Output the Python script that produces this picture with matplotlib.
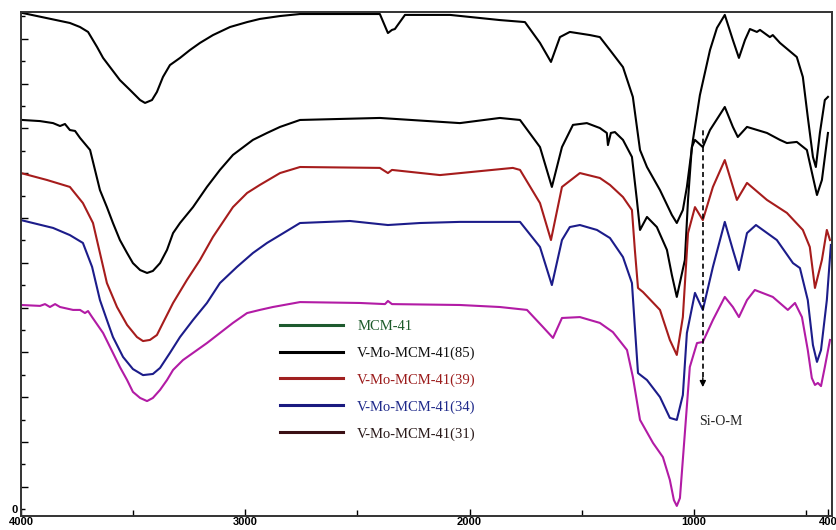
import matplotlib
matplotlib.use("Agg")
import matplotlib.pyplot as plt
from matplotlib.lines import Line2D

# wavenumber (cm-1) and transmittance (a.u., stacked)
mcm41_wn = [3995, 3782, 3737, 3701, 3661, 3634, 3603, 3559, 3514, 3469, 3447, 3416, 3394, 3367, 3336,
            3291, 3247, 3202, 3144, 3068, 2992, 2935, 2845, 2756,
            2400, 2364, 2346, 2333, 2288, 2087, 1865, 1753, 1686, 1637, 1597, 1553, 1463, 1419, 1374,
            1316, 1272, 1240, 1209, 1151, 1098, 1076, 1049, 1031, 1004, 973, 928, 897, 862, 826,
            799, 772, 750, 719, 705, 661, 648, 616, 541, 514, 492, 469, 456, 438, 416, 402]
mcm41_t = [22.16, 21.71, 21.53, 21.31, 20.64, 20.15, 19.74, 19.16, 18.72, 18.27, 18.14, 18.27, 18.63, 19.30, 19.83,
           20.15, 20.50, 20.82, 21.17, 21.53, 21.75, 21.89, 22.02, 22.11,
           22.11, 21.26, 21.40, 21.44, 22.07, 22.07, 21.84, 21.75, 20.82, 19.97, 21.08, 21.31, 21.17, 21.08, 20.50,
           19.74, 18.41, 16.04, 15.28, 14.25, 13.14, 12.78, 13.36, 14.39, 16.49, 18.49, 20.50, 21.49, 22.07, 20.95,
           20.15, 20.95, 21.44, 21.31, 21.40, 21.08, 21.17, 20.82, 20.19, 19.30, 17.51, 15.73, 15.28, 16.80, 18.27, 18.41]

vmo85_wn = [3995, 3915, 3857, 3826, 3804, 3782, 3759, 3737, 3692,
            3648, 3617, 3590, 3559, 3527, 3501, 3469, 3438, 3412, 3380, 3349, 3322, 3291, 3233, 3171,
            3113, 3055, 2966, 2903, 2845,
            2756, 2400, 2043, 1865, 1775, 1686, 1633, 1588, 1539, 1477, 1419, 1388, 1383, 1370, 1352,
            1316, 1276, 1254, 1240, 1209, 1165, 1120, 1098, 1076, 1040, 1026, 1009, 995, 960, 928,
            862, 826, 804, 763, 674, 616, 585, 541, 496, 469, 451, 429, 402]
vmo85_t = [17.38, 17.33, 17.24, 17.11, 17.20, 16.93, 16.89, 16.58, 16.04,
           14.25, 13.49, 12.78, 12.02, 11.44, 10.99, 10.68, 10.55, 10.64, 10.99, 11.58, 12.33, 12.78, 13.49, 14.39,
           15.15, 15.82, 16.49, 16.80, 17.07,
           17.38, 17.47, 17.24, 17.47, 17.38, 16.17, 14.39, 16.17, 17.16, 17.24, 17.02, 16.80, 16.26, 16.80, 16.84,
           16.49, 15.73, 13.81, 12.47, 13.05, 12.60, 11.58, 10.46, 9.48, 11.13, 13.81, 16.17, 16.49, 16.17, 16.93,
           17.96, 17.07, 16.62, 17.07, 16.80, 16.49, 16.35, 16.40, 16.04, 14.83, 14.03, 14.70, 16.80]

vmo39_wn = [4000, 3884, 3782, 3724,
            3679, 3648, 3617, 3572, 3527, 3483, 3456, 3425, 3394, 3367, 3322, 3260, 3202, 3144, 3055,
            2992, 2935, 2845,
            2756, 2400, 2364, 2346, 2132, 1807, 1775, 1686, 1637, 1588, 1508, 1419, 1374, 1316, 1276,
            1263, 1249, 1227, 1151, 1107, 1076, 1049, 1026, 995, 960, 915, 862, 808, 763, 674,
            585, 514, 483, 460, 429, 407, 393]
vmo39_t = [15.01, 14.70, 14.39, 13.67,
           12.78, 11.44, 10.10, 9.03, 8.23, 7.69, 7.51, 7.56, 7.78, 8.32, 9.21, 10.24, 11.13, 12.16, 13.49,
           14.12, 14.48, 15.01,
           15.28, 15.24, 15.01, 15.15, 14.92, 15.24, 15.15, 13.67, 12.02, 14.39, 15.01, 14.79, 14.48, 13.94, 13.36,
           11.58, 9.88, 9.70, 8.90, 7.56, 6.89, 8.58, 12.33, 13.49, 12.91, 14.39, 15.59, 13.81, 14.57, 13.81,
           13.23, 12.47, 11.71, 9.88, 11.13, 12.47, 12.02]

vmo34_wn = [4000, 3857, 3782, 3724,
            3683, 3648, 3617, 3590, 3545, 3501, 3456, 3412, 3380, 3336, 3291, 3233, 3171, 3113, 3037,
            2966, 2903, 2845,
            2756, 2533, 2364, 2221, 2043, 1865, 1775, 1686, 1633, 1588, 1553, 1508, 1432, 1374, 1316,
            1276, 1263, 1249, 1209, 1151, 1107, 1076, 1049, 1031, 995, 960, 915, 862, 826, 799,
            763, 723, 630, 558, 527, 492, 469, 451, 433, 407, 389]
vmo34_t = [12.91, 12.56, 12.24, 11.89,
           10.82, 9.34, 8.45, 7.69, 6.80, 6.26, 5.99, 6.04, 6.31, 6.98, 7.69, 8.45, 9.21, 10.10, 10.82,
           11.44, 11.89, 12.24,
           12.78, 12.87, 12.69, 12.78, 12.83, 12.83, 12.83, 11.71, 10.01, 12.02, 12.60, 12.69, 12.47, 12.11, 11.26,
           10.10, 8.14, 6.08, 5.77, 5.01, 4.08, 3.99, 5.10, 7.87, 9.66, 8.90, 10.82, 12.83, 11.58, 10.68,
           12.33, 12.69, 12.02, 10.99, 10.77, 9.34, 7.33, 6.58, 7.11, 9.34, 11.80]

vmo31_wn = [4000, 3915, 3893, 3871, 3848, 3826, 3768, 3737, 3715, 3701,
            3683, 3634, 3590, 3559, 3527, 3501, 3469, 3438, 3412, 3380, 3349, 3322, 3278, 3233, 3171,
            3113, 3055, 2992, 2935, 2877,
            2756, 2489, 2377, 2364, 2346, 2043, 1865, 1744, 1673, 1628, 1588, 1508, 1419, 1361, 1298,
            1272, 1240, 1182, 1138, 1107, 1089, 1076, 1062, 1040, 1018, 986, 960, 915, 862, 826,
            799, 763, 728, 648, 581, 549, 518, 492, 474, 460, 447, 433, 416, 393]
vmo31_t = [9.12, 9.08, 9.16, 9.03, 9.16, 9.03, 8.90, 8.90, 8.76, 8.85,
           8.58, 7.87, 6.98, 6.35, 5.77, 5.24, 4.97, 4.83, 4.97, 5.33, 5.77, 6.22, 6.66, 6.98, 7.42,
           7.87, 8.32, 8.76, 8.90, 9.03,
           9.25, 9.21, 9.16, 9.30, 9.16, 9.12, 9.03, 8.90, 8.14, 7.65, 8.54, 8.58, 8.32, 7.91, 7.11,
           5.91, 3.99, 2.96, 2.33, 1.31, 0.41, 0.15, 0.50, 3.41, 6.35, 7.42, 7.47, 8.45, 9.48, 9.03,
           8.58, 9.34, 9.79, 9.48, 8.90, 9.21, 8.58, 7.11, 5.86, 5.55, 5.64, 5.50, 6.35, 7.56]

labels = ["MCM-41", "V-Mo-MCM-41(85)", "V-Mo-MCM-41(39)", "V-Mo-MCM-41(34)", "V-Mo-MCM-41(31)"]
legend_line_colors = ["#1e5a2e", "#000000", "#a02020", "#1a1a80", "#3a0f14"]
legend_text_colors = ["#1d5b2b", "#111111", "#9b1b1b", "#1f2a8a", "#2a1a1a"]

curves = [
    (mcm41_wn, mcm41_t, "#000000"),
    (vmo85_wn, vmo85_t, "#000000"),
    (vmo39_wn, vmo39_t, "#a61c1c"),
    (vmo34_wn, vmo34_t, "#1c1c8a"),
    (vmo31_wn, vmo31_t, "#b21ba5"),
]

fig = plt.figure(figsize=(8.36, 5.30), dpi=100)
ax = fig.add_axes([21 / 836, 14 / 530, 811 / 836, 504 / 530])

for wn, t, color in curves:
    ax.plot(wn, t, color=color, lw=1.5, solid_joinstyle="round")

ax.set_xlim(4000, 384)
ax.set_ylim(-0.3, 22.2)

# Si-O-M marker
ax.vlines(960, 5.9, 16.93, colors="black", linestyles=(0, (3, 2)), lw=1.2)
ax.annotate("", xy=(960, 5.33), xytext=(960, 6.0),
            arrowprops=dict(arrowstyle="-|>", color="black", lw=1.0, mutation_scale=9))
ax.text(880, 3.9, "Si-O-M", ha="center", va="center", fontsize=10, family="Liberation Serif", color="#222222")

handles = [Line2D([], [], color=c, lw=2.2) for c in legend_line_colors]
leg = ax.legend(handles, labels, loc="upper left", bbox_to_anchor=(0.312, 0.401), frameon=False,
                prop={"family": "Liberation Serif", "size": 10.5}, handlelength=4.3,
                handletextpad=1.0, labelspacing=0.92, borderaxespad=0)
for txt, c in zip(leg.get_texts(), legend_text_colors):
    txt.set_color(c)

ax.set_xticks([4000, 3000, 2000, 1000, 400])
ax.set_xticklabels(["4000", "3000", "2000", "1000", "400"], fontsize=8, fontweight="bold",
                   family="Liberation Sans")
ax.set_xticks([3500, 2500, 1500, 500], minor=True)
ax.set_yticks(list(range(1, 23, 2)))
ax.set_yticklabels([])
ax.set_yticks(list(range(0, 23, 2)), minor=True)
ax.set_yticklabels(["0"] + [""] * 11, minor=True, fontsize=8, fontweight="bold", family="Liberation Sans")
ax.tick_params(axis="both", which="both", direction="in", width=1.0)
ax.tick_params(axis="x", which="major", length=5, pad=1)
ax.tick_params(axis="x", which="minor", length=4)
ax.tick_params(axis="y", which="major", length=5, pad=2)
ax.tick_params(axis="y", which="minor", length=3, pad=2)
ax.tick_params(top=False, right=False)

for sp in ax.spines.values():
    sp.set_linewidth(1.4)
    sp.set_color("#333333")

fig.savefig("out.png", dpi=100)
